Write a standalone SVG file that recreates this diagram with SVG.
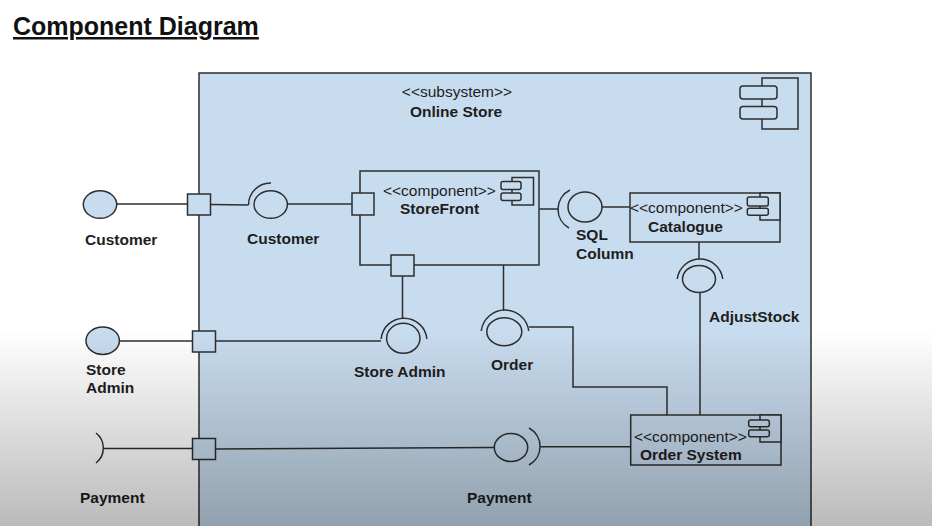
<svg xmlns="http://www.w3.org/2000/svg" width="932" height="526" viewBox="0 0 932 526">
<defs>
<linearGradient id="shade" x1="0" y1="0" x2="0" y2="1" gradientUnits="objectBoundingBox">
<stop offset="0" stop-color="#000" stop-opacity="0"/>
<stop offset="1" stop-color="#000" stop-opacity="0.27"/>
</linearGradient>
</defs>
<style>
.ln{fill:none;stroke:#2e2e2e;stroke-width:1.5}
.bx{fill:#c8dcef;stroke:#2e2e2e;stroke-width:1.5}
.nf{fill:none;stroke:#2e2e2e;stroke-width:1.5}
.st{font-family:"Liberation Sans",Arial,sans-serif;font-size:15.5px;fill:#1e1e1e}
.lb{font-family:"Liberation Sans",Arial,sans-serif;font-size:15.5px;font-weight:bold;fill:#1e1e1e}
</style>
<rect x="0" y="0" width="932" height="526" fill="#ffffff"/>
<text x="13" y="35" font-family="'Liberation Sans',Arial,sans-serif" font-size="25" font-weight="bold" fill="#111" text-decoration="underline">Component Diagram</text>

<g id="subsystem">
<rect class="bx" x="199" y="73" width="612" height="470"/>
<text class="st" x="457" y="97" text-anchor="middle">&lt;&lt;subsystem&gt;&gt;</text>
<text class="lb" x="456" y="117" text-anchor="middle">Online Store</text>
<rect class="bx" x="762" y="78" width="36" height="51"/>
<rect class="bx" x="740" y="86" width="37" height="13" rx="3"/>
<rect class="bx" x="740" y="106.5" width="37" height="12.5" rx="3"/>
</g>

<g id="connectors">
<path class="ln" d="M117 204 H188"/>
<path class="ln" d="M211 204.5 L248.5 205"/>
<path class="ln" d="M287.4 204 H352"/>
<path class="ln" d="M539 209 H558.5"/>
<path class="ln" d="M602 207 H630"/>
<path class="ln" d="M699 242 V259"/>
<path class="ln" d="M700 292.5 V415"/>
<path class="ln" d="M503.5 265 V310.5"/>
<path class="ln" d="M529 327 H573 V387 H667 V415"/>
<path class="ln" d="M402.5 276 V318.5"/>
<path class="ln" d="M215.5 341 H381"/>
<path class="ln" d="M119 341 H192.5"/>
<path class="ln" d="M103.3 448.5 H192.5"/>
<path class="ln" d="M215.5 449 L494.3 447.5"/>
<path class="ln" d="M540.5 446.7 H630.7"/>
</g>

<g id="customer-ext">
<ellipse class="bx" cx="100" cy="204.5" rx="16.7" ry="13.8"/>
<text class="lb" x="85" y="245">Customer</text>
</g>
<g id="customer-port"><rect class="bx" x="187.5" y="194" width="23" height="21"/></g>
<g id="storeadmin-ext">
<ellipse class="bx" cx="102.7" cy="340.7" rx="16.7" ry="13.7"/>
<text class="lb" x="86" y="375">Store</text>
<text class="lb" x="86" y="393">Admin</text>
</g>
<g id="storeadmin-port"><rect class="bx" x="192.5" y="331" width="23" height="21"/></g>
<g id="payment-ext">
<path class="nf" d="M96 433 A19 19 0 0 1 96 463"/>
<text class="lb" x="80" y="503">Payment</text>
</g>
<g id="payment-port"><rect class="bx" x="192.5" y="438.5" width="23" height="21"/></g>

<g id="customer-int">
<path class="nf" d="M248.5 205 A22 22 0 0 1 271 183"/>
<ellipse class="bx" cx="270.7" cy="204.5" rx="16.7" ry="13.8"/>
<text class="lb" x="247" y="244">Customer</text>
</g>

<g id="storefront">
<rect class="bx" x="360" y="171" width="179" height="94"/>
<rect class="bx" x="512" y="177.5" width="21.5" height="27.5"/>
<rect class="bx" x="501" y="181.5" width="20" height="8" rx="2"/>
<rect class="bx" x="501" y="193" width="20" height="7.5" rx="2"/>
<text class="st" x="383" y="196">&lt;&lt;component&gt;&gt;</text>
<text class="lb" x="400" y="214">StoreFront</text>
<rect class="bx" x="352" y="193" width="22" height="22"/>
<rect class="bx" x="391" y="255" width="23" height="21"/>
</g>

<g id="sql-column">
<path class="nf" d="M570 190 A21.5 21.5 0 0 0 569 228"/>
<ellipse class="bx" cx="585" cy="207" rx="17" ry="15"/>
<text class="lb" x="576" y="240">SQL</text>
<text class="lb" x="576" y="259">Column</text>
</g>

<g id="catalogue">
<rect class="bx" x="630" y="193" width="150" height="49"/>
<rect class="bx" x="760" y="193" width="20" height="27"/>
<rect class="bx" x="747.3" y="197" width="21" height="9" rx="2"/>
<rect class="bx" x="747.3" y="208.3" width="21" height="7" rx="2"/>
<text class="st" x="630" y="213">&lt;&lt;component&gt;&gt;</text>
<text class="lb" x="648" y="232">Catalogue</text>
</g>

<g id="adjuststock">
<path class="nf" d="M677.2 279 A23 23 0 0 1 722.8 279"/>
<ellipse class="bx" cx="699" cy="279" rx="16.5" ry="13.5"/>
<text class="lb" x="709" y="322">AdjustStock</text>
</g>

<g id="storeadmin-int">
<path class="nf" d="M381.1 339 A23 23 0 0 1 426.9 339"/>
<ellipse class="bx" cx="403.3" cy="338.3" rx="16.7" ry="15"/>
<text class="lb" x="354" y="377">Store Admin</text>
</g>

<g id="order">
<path class="nf" d="M481.2 331 A24 24 0 0 1 528.8 331"/>
<ellipse class="bx" cx="504.3" cy="331.7" rx="17.5" ry="14"/>
<text class="lb" x="491" y="370">Order</text>
</g>

<g id="payment-int">
<path class="nf" d="M529 428 A21 21 0 0 1 529 465"/>
<ellipse class="bx" cx="511" cy="447.5" rx="16.7" ry="14"/>
<text class="lb" x="467" y="503">Payment</text>
</g>

<g id="ordersystem">
<rect class="bx" x="630.7" y="415" width="150.3" height="50"/>
<rect class="bx" x="760" y="415" width="21" height="27"/>
<rect class="bx" x="748.7" y="420" width="20.6" height="6.7" rx="2"/>
<rect class="bx" x="748.7" y="430" width="20.6" height="6.7" rx="2"/>
<text class="st" x="634" y="442">&lt;&lt;component&gt;&gt;</text>
<text class="lb" x="640" y="460">Order System</text>
</g>

<rect x="0" y="330" width="932" height="196" fill="url(#shade)"/>
</svg>
